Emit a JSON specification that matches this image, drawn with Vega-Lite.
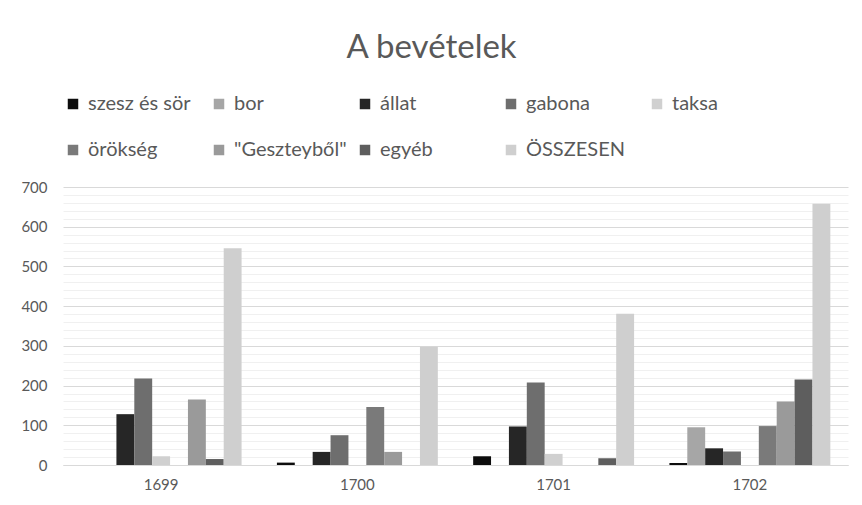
{
  "$schema": "https://vega.github.io/schema/vega-lite/v6.json",
  "width": 785,
  "height": 278,
  "autosize": {"type": "none"},
  "padding": {"left": 63, "top": 187, "right": 14, "bottom": 40},
  "background": "white",
  "title": {
    "text": "A bevételek",
    "anchor": "middle",
    "frame": "group",
    "dx": -24,
    "offset": 29,
    "font": "Lato",
    "fontSize": 33,
    "fontWeight": "normal",
    "color": "#595959"
  },
  "data": {
    "values": [
      {"year": "1699", "series": "szesz és sör", "value": 0},
      {"year": "1699", "series": "bor", "value": 0},
      {"year": "1699", "series": "állat", "value": 128},
      {"year": "1699", "series": "gabona", "value": 218},
      {"year": "1699", "series": "taksa", "value": 22},
      {"year": "1699", "series": "örökség", "value": 0},
      {"year": "1699", "series": "\"Geszteyből\"", "value": 165},
      {"year": "1699", "series": "egyéb", "value": 15},
      {"year": "1699", "series": "ÖSSZESEN", "value": 546},
      {"year": "1700", "series": "szesz és sör", "value": 6},
      {"year": "1700", "series": "bor", "value": 0},
      {"year": "1700", "series": "állat", "value": 33},
      {"year": "1700", "series": "gabona", "value": 75},
      {"year": "1700", "series": "taksa", "value": 0},
      {"year": "1700", "series": "örökség", "value": 146},
      {"year": "1700", "series": "\"Geszteyből\"", "value": 33},
      {"year": "1700", "series": "egyéb", "value": 0},
      {"year": "1700", "series": "ÖSSZESEN", "value": 298},
      {"year": "1701", "series": "szesz és sör", "value": 22},
      {"year": "1701", "series": "bor", "value": 0},
      {"year": "1701", "series": "állat", "value": 97},
      {"year": "1701", "series": "gabona", "value": 208},
      {"year": "1701", "series": "taksa", "value": 28},
      {"year": "1701", "series": "örökség", "value": 0},
      {"year": "1701", "series": "\"Geszteyből\"", "value": 0},
      {"year": "1701", "series": "egyéb", "value": 17},
      {"year": "1701", "series": "ÖSSZESEN", "value": 381},
      {"year": "1702", "series": "szesz és sör", "value": 5},
      {"year": "1702", "series": "bor", "value": 95},
      {"year": "1702", "series": "állat", "value": 42},
      {"year": "1702", "series": "gabona", "value": 34},
      {"year": "1702", "series": "taksa", "value": 0},
      {"year": "1702", "series": "örökség", "value": 98},
      {"year": "1702", "series": "\"Geszteyből\"", "value": 160},
      {"year": "1702", "series": "egyéb", "value": 215},
      {"year": "1702", "series": "ÖSSZESEN", "value": 658}
    ]
  },
  "mark": {"type": "bar"},
  "encoding": {
    "x": {
      "field": "year",
      "type": "nominal",
      "scale": {"paddingInner": 0.18, "paddingOuter": 0.09},
      "axis": {
        "title": null,
        "labelAngle": 0,
        "labelFont": "Lato",
        "labelFontSize": 15,
        "labelColor": "#595959",
        "labelPadding": 12,
        "ticks": false,
        "domainColor": "#d9d9d9",
        "domainWidth": 1
      }
    },
    "xOffset": {
      "field": "series",
      "type": "nominal",
      "sort": ["szesz és sör", "bor", "állat", "gabona", "taksa", "örökség", "\"Geszteyből\"", "egyéb", "ÖSSZESEN"],
      "scale": {"paddingInner": 0, "paddingOuter": 0}
    },
    "y": {
      "field": "value",
      "type": "quantitative",
      "scale": {"domain": [0, 700], "nice": false},
      "axis": {
        "title": null,
        "values": [0, 20, 40, 60, 80, 100, 120, 140, 160, 180, 200, 220, 240, 260, 280, 300, 320, 340, 360, 380, 400, 420, 440, 460, 480, 500, 520, 540, 560, 580, 600, 620, 640, 660, 680, 700],
        "labelExpr": "datum.value % 100 === 0 ? datum.label : ''",
        "labelFont": "Lato",
        "labelFontSize": 15,
        "labelColor": "#595959",
        "labelPadding": 16,
        "ticks": false,
        "domain": false,
        "grid": true,
        "gridColor": {"condition": {"test": "datum.value % 100 === 0", "value": "#d9d9d9"}, "value": "#f0f0f0"},
        "gridWidth": 1
      }
    },
    "color": {
      "field": "series",
      "type": "nominal",
      "sort": ["szesz és sör", "bor", "állat", "gabona", "taksa", "örökség", "\"Geszteyből\"", "egyéb", "ÖSSZESEN"],
      "scale": {
        "domain": ["szesz és sör", "bor", "állat", "gabona", "taksa", "örökség", "\"Geszteyből\"", "egyéb", "ÖSSZESEN"],
        "range": ["#0d0d0d", "#a6a6a6", "#262626", "#6e6e6e", "#d0d0d0", "#7a7a7a", "#9a9a9a", "#5e5e5e", "#cfcfcf"]
      },
      "legend": {
        "title": null,
        "orient": "none",
        "legendX": 0,
        "legendY": -93,
        "direction": "horizontal",
        "columns": 5,
        "gridAlign": "all",
        "columnPadding": 8,
        "rowPadding": 26,
        "symbolType": "square",
        "symbolSize": 110,
        "symbolStrokeWidth": 0,
        "symbolOpacity": 1,
        "labelFont": "Lato",
        "labelFontSize": 20,
        "labelColor": "#595959",
        "labelOffset": 5,
        "labelLimit": 200
      }
    }
  },
  "config": {
    "view": {"stroke": null},
    "bar": {"stroke": null}
  }
}
